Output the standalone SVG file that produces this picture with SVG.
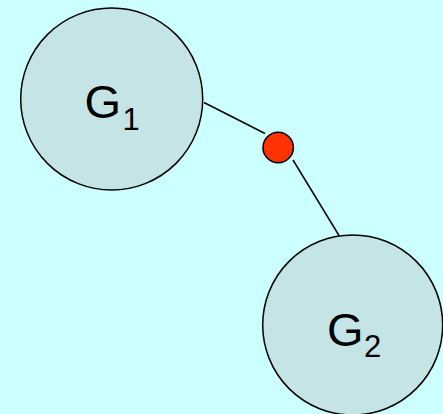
<svg xmlns="http://www.w3.org/2000/svg" width="443" height="414" viewBox="0 0 443 414">
<style>
.node{fill:#C4E4E6;stroke:#000;stroke-width:1.5}
.lbl{font-family:"Liberation Sans",Arial,sans-serif;fill:#000}
.big{font-size:47px}
.sub{font-size:31px}
.edge{stroke:#000;stroke-width:1.5;fill:none}
</style>
<rect width="443" height="414" fill="#CCFFFF"/>
<g id="connectors">
<line class="edge" x1="204" y1="102.5" x2="265" y2="133.5"/>
<line class="edge" x1="293" y1="160" x2="339" y2="235.5"/>
</g>
<g id="G1">
<circle class="node" cx="111.7" cy="99" r="91"/>
<text class="lbl big" x="84.5" y="118">G</text>
<text class="lbl sub" x="122.5" y="130">1</text>
</g>
<g id="G2">
<circle class="node" cx="352.7" cy="325" r="90"/>
<text class="lbl big" x="327" y="346">G</text>
<text class="lbl sub" x="364" y="357">2</text>
</g>
<g id="junction">
<circle cx="278.2" cy="147.5" r="15.2" fill="#FF3300" stroke="#000" stroke-width="1.5"/>
</g>
</svg>
